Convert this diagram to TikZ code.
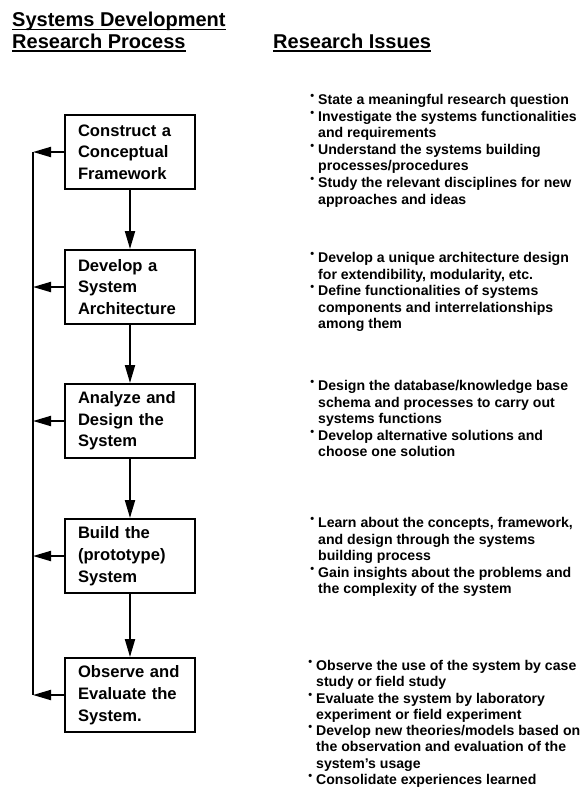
\documentclass[tikz,border=0pt]{standalone}
\usepackage{fontspec}
\setmainfont{Liberation Sans}
\usetikzlibrary{arrows.meta}
\newcommand{\issuebul}{\llap{\raisebox{5pt}{\fontsize{11}{11}\selectfont\textbullet}\hspace{4pt}}}
\newcommand{\headul}[1]{\setbox0\hbox{#1}\rlap{\rule[-3.8pt]{\wd0}{1.8pt}}\box0}

\begin{document}
\begin{tikzpicture}[x=1pt, y=-1pt,
    stagebox/.style={rectangle, draw=black, line width=2pt, text width=104pt, inner xsep=13pt,
                 inner ysep=0pt, minimum height=74pt, align=left,
                 font=\fontsize{16.6}{21.7}\selectfont\bfseries},
    issue/.style={anchor=north west, inner sep=0pt, align=left,
                 font=\fontsize{14.1}{16.6}\selectfont\bfseries},
    head/.style={anchor=north west, inner sep=0pt, align=left,
                 font=\fontsize{20}{21.5}\selectfont\bfseries},
    arr/.style={-{Triangle[length=18pt, width=10pt]}, line width=2pt}
]
\useasboundingbox (0,0) rectangle (585,788);

\node[head] (hproc) at (12,12)   {\headul{Systems Development}\\\headul{Research Process}};
\node[head] (hiss)  at (273,33.5) {\headul{Research Issues}};

\node[stagebox] (s1) at (130,152) {Construct a\\Conceptual\\Framework};
\node[stagebox] (s2) at (130,287) {Develop a\\System\\Architecture};
\node[stagebox] (s3) at (130,421) {Analyze and\\Design the\\System};
\node[stagebox] (s4) at (130,556) {Build the\\(prototype)\\System};
\node[stagebox] (s5) at (130,695) {Observe and\\Evaluate the\\System.};

\draw[arr] (s1.south) -- (s2.north);
\draw[arr] (s2.south) -- (s3.north);
\draw[arr] (s3.south) -- (s4.north);
\draw[arr] (s4.south) -- (s5.north);

\coordinate (rail) at (33,0);
\draw[line width=2pt] (s1.west -| rail) -- (s5.west -| rail);
\foreach \i in {1,...,5}
    \draw[arr] (s\i.west) -- (s\i.west -| rail);

\node[issue] (i1) at (318,94) {\issuebul State a meaningful research question\\
    \issuebul Investigate the systems functionalities\\and requirements\\
    \issuebul Understand the systems building\\processes/procedures\\
    \issuebul Study the relevant disciplines for new\\approaches and ideas};
\node[issue] (i2) at (318,252) {\issuebul Develop a unique architecture design\\
    for extendibility, modularity, etc.\\
    \issuebul Define functionalities of systems\\components and interrelationships\\among them};
\node[issue] (i3) at (318,380) {\issuebul Design the database/knowledge base\\
    schema and processes to carry out\\systems functions\\
    \issuebul Develop alternative solutions and\\choose one solution};
\node[issue] (i4) at (318,517) {\issuebul Learn about the concepts, framework,\\
    and design through the systems\\building process\\
    \issuebul Gain insights about the problems and\\the complexity of the system};
\node[issue, font=\fontsize{14.1}{16.3}\selectfont\bfseries] (i5) at (316,660)
    {\issuebul Observe the use of the system by case\\
    study or field study\\
    \issuebul Evaluate the system by laboratory\\experiment or field experiment\\
    \issuebul Develop new theories/models based on\\the observation and evaluation of the\\system's usage\\
    \issuebul Consolidate experiences learned};
\end{tikzpicture}
\end{document}
